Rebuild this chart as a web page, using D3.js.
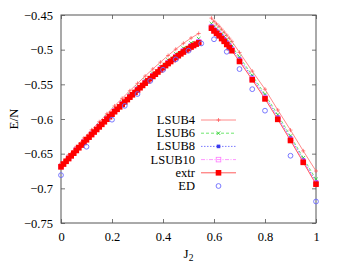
<!DOCTYPE html>
<html lang="en">
<head>
<meta charset="UTF-8">
<title>E/N vs J2</title>
<script src="https://d3js.org/d3.v7.min.js"></script>
<style type="text/css">
    body { margin: 0; background: #fff; }
    text { font-family: 'Liberation Serif', 'DejaVu Serif', serif; }
</style>
</head>
<body>
<svg width="337" height="263"></svg>
<script type="text/javascript">
// left branch (Neel-like), right branch (collinear)
var leftJ = [0, 0.03, 0.06, 0.09, 0.12, 0.15, 0.18, 0.21, 0.24, 0.27, 0.30, 0.33, 0.36, 0.39, 0.42, 0.45, 0.48, 0.51, 0.54];
var rightJ = [0.59, 0.60, 0.61, 0.62, 0.63, 0.64, 0.65, 0.66, 0.67, 0.70, 0.75, 0.80, 0.85, 0.90, 0.95, 1.00];

var lsub4L = [-0.6640, -0.6516, -0.6395, -0.6274, -0.6156, -0.6040, -0.5925, -0.5812, -0.5702, -0.5593, -0.5486, -0.5381, -0.5279, -0.5180, -0.5084, -0.4993, -0.4908, -0.4832, -0.4767];
var lsub6L = [-0.6675, -0.6554, -0.6434, -0.6316, -0.6200, -0.6087, -0.5973, -0.5863, -0.5755, -0.5648, -0.5543, -0.5441, -0.5341, -0.5244, -0.5150, -0.5062, -0.4979, -0.4905, -0.4842];
var lsub8L = [-0.6680, -0.6560, -0.6442, -0.6325, -0.6211, -0.6098, -0.5986, -0.5877, -0.5771, -0.5665, -0.5562, -0.5461, -0.5363, -0.5267, -0.5174, -0.5087, -0.5006, -0.4933, -0.4872];
var lsub10L = [-0.6685, -0.6565, -0.6448, -0.6331, -0.6218, -0.6106, -0.5995, -0.5886, -0.5781, -0.5675, -0.5572, -0.5472, -0.5374, -0.5279, -0.5187, -0.5101, -0.5020, -0.4948, -0.4887];

var lsub4R = [-0.4545, -0.4590, -0.4627, -0.4663, -0.4705, -0.4747, -0.4790, -0.4835, -0.4880, -0.5040, -0.5310, -0.5570, -0.5870, -0.6160, -0.6460, -0.6750];
var lsub6R = [-0.4625, -0.4665, -0.4700, -0.4735, -0.4775, -0.4815, -0.4860, -0.4905, -0.4950, -0.5105, -0.5370, -0.5645, -0.5940, -0.6245, -0.6560, -0.6870];
var lsub8R = [-0.4655, -0.4695, -0.4730, -0.4765, -0.4805, -0.4845, -0.4890, -0.4935, -0.4980, -0.5135, -0.5400, -0.5675, -0.5970, -0.6275, -0.6590, -0.6905];
var lsub10R = [-0.4675, -0.4715, -0.4750, -0.4785, -0.4825, -0.4865, -0.4910, -0.4955, -0.5000, -0.5155, -0.5420, -0.5695, -0.5990, -0.6295, -0.6610, -0.6925];

// extrapolated, left branch read at every 0.01
var extrLJ = [0, 0.01, 0.02, 0.03, 0.04, 0.05, 0.06, 0.07, 0.08, 0.09, 0.10, 0.11, 0.12, 0.13, 0.14, 0.15, 0.16, 0.17, 0.18, 0.19, 0.20, 0.21, 0.22, 0.23, 0.24, 0.25, 0.26, 0.27, 0.28, 0.29, 0.30, 0.31, 0.32, 0.33, 0.34, 0.35, 0.36, 0.37, 0.38, 0.39, 0.40, 0.41, 0.42, 0.43, 0.44, 0.45, 0.46, 0.47, 0.48, 0.49, 0.50, 0.51, 0.52, 0.53, 0.54];
var extrL = [-0.6690, -0.6650, -0.6610, -0.6571, -0.6532, -0.6493, -0.6454, -0.6415, -0.6376, -0.6338, -0.6300, -0.6262, -0.6225, -0.6188, -0.6151, -0.6114, -0.6077, -0.6040, -0.6003, -0.5967, -0.5931, -0.5895, -0.5860, -0.5825, -0.5790, -0.5755, -0.5720, -0.5685, -0.5651, -0.5617, -0.5583, -0.5549, -0.5516, -0.5483, -0.5450, -0.5418, -0.5386, -0.5354, -0.5322, -0.5291, -0.5260, -0.5230, -0.5200, -0.5171, -0.5142, -0.5114, -0.5087, -0.5060, -0.5034, -0.5009, -0.4985, -0.4962, -0.4940, -0.4920, -0.4902];
var extrR = [-0.4690, -0.4730, -0.4765, -0.4800, -0.4840, -0.4880, -0.4925, -0.4970, -0.5015, -0.5170, -0.5435, -0.5710, -0.6005, -0.6310, -0.6625, -0.6940];

var edJ = [0, 0.1, 0.2, 0.25, 0.3, 0.35, 0.4, 0.45, 0.5, 0.55, 0.6, 0.65, 0.7, 0.75, 0.8, 0.9, 1.0];
var edE = [-0.681, -0.640, -0.601, -0.581, -0.564, -0.545, -0.529, -0.514, -0.5015, -0.491, -0.485, -0.503, -0.528, -0.557, -0.588, -0.653, -0.719];

var xTicks = [0, 0.2, 0.4, 0.6, 0.8, 1];
var yTicks = [-0.75, -0.7, -0.65, -0.6, -0.55, -0.5, -0.45];

var svg = d3.select("svg");
var x = d3.scaleLinear().domain([0, 1]).range([61, 316]);
var y = d3.scaleLinear().domain([-0.75, -0.45]).range([223, 15]);

function zip(js, es) { return js.map(function(j, i) { return [j, es[i]]; }); }

var series = [
    {name: "LSUB4", color: "#ff8a8a", dash: null, mark: "plus", parts: [zip(leftJ, lsub4L), zip(rightJ, lsub4R)]},
    {name: "LSUB6", color: "#6ee66e", dash: "3,2", mark: "cross", parts: [zip(leftJ, lsub6L), zip(rightJ, lsub6R)]},
    {name: "LSUB8", color: "#7a7aff", dash: "1.5,1.5", mark: "fsquare", parts: [zip(leftJ, lsub8L), zip(rightJ, lsub8R)]},
    {name: "LSUB10", color: "#ff99ff", dash: "4,1.5,1,1.5", mark: "osquare", parts: [zip(leftJ, lsub10L), zip(rightJ, lsub10R)]},
    {name: "extr", color: "#ff5c5c", dash: null, mark: "redsq", parts: [zip(extrLJ, extrL), zip(rightJ, extrR)]},
    {name: "ED", color: "#6a6aff", dash: null, mark: "circle", parts: [zip(edJ, edE)], noLine: true}
];

var line = d3.line().x(function(d) { return x(d[0]); }).y(function(d) { return y(d[1]); });

function drawMark(g, type, px, py, color) {
    if (type === "plus") {
        g.append("path").attr("d", "M" + (px - 2) + "," + py + "h4M" + px + "," + (py - 2) + "v4")
            .attr("stroke", "#ff5050").attr("stroke-width", 0.7).attr("fill", "none");
    } else if (type === "cross") {
        g.append("path").attr("d", "M" + (px - 1.8) + "," + (py - 1.8) + "l3.6,3.6M" + (px - 1.8) + "," + (py + 1.8) + "l3.6,-3.6")
            .attr("stroke", "#22cc22").attr("stroke-width", 0.8).attr("fill", "none");
    } else if (type === "fsquare") {
        g.append("rect").attr("x", px - 1.8).attr("y", py - 1.8).attr("width", 3.6).attr("height", 3.6)
            .attr("fill", "#3a3aee");
    } else if (type === "osquare") {
        g.append("rect").attr("x", px - 2.3).attr("y", py - 2.3).attr("width", 4.6).attr("height", 4.6)
            .attr("fill", "none").attr("stroke", "#ff77ff").attr("stroke-width", 0.8);
    } else if (type === "redsq") {
        g.append("rect").attr("x", px - 2.8).attr("y", py - 2.8).attr("width", 5.6).attr("height", 5.6)
            .attr("fill", "#ff0000");
    } else if (type === "circle") {
        g.append("circle").attr("cx", px).attr("cy", py).attr("r", 2.4)
            .attr("fill", "none").attr("stroke", color).attr("stroke-width", 0.9);
    }
}

// axes with inward ticks on all sides
svg.append("g").attr("transform", "translate(0,223)")
    .call(d3.axisBottom(x).tickValues(xTicks).tickSize(-4).tickPadding(9)
        .tickFormat(function(d) { return String(d); }));
svg.append("g").attr("transform", "translate(0,15)")
    .call(d3.axisTop(x).tickValues(xTicks).tickSize(-4).tickFormat(""));
svg.append("g").attr("transform", "translate(61,0)")
    .call(d3.axisLeft(y).tickValues(yTicks).tickSize(-4).tickPadding(8)
        .tickFormat(function(d) { return String(d).replace("-", "\u2212"); }));
svg.append("g").attr("transform", "translate(316,0)")
    .call(d3.axisRight(y).tickValues(yTicks).tickSize(-4).tickFormat(""));

svg.selectAll(".domain").remove();
svg.selectAll(".tick line").attr("stroke", "#777");
svg.selectAll(".tick text").attr("fill", "#000").style("font-size", "12.5px")
    .style("font-family", "'Liberation Serif', serif");

svg.append("rect").attr("x", 61).attr("y", 15).attr("width", 255).attr("height", 208)
    .attr("fill", "none").attr("stroke", "#555").attr("stroke-width", 1);

// data
var plot = svg.append("g");
series.forEach(function(s) {
    var g = plot.append("g");
    s.parts.forEach(function(part) {
        if (!s.noLine) {
            g.append("path").datum(part).attr("d", line)
                .attr("fill", "none").attr("stroke", s.color).attr("stroke-width", 1)
                .attr("stroke-dasharray", s.dash);
        }
        part.forEach(function(d) { drawMark(g, s.mark, x(d[0]), y(d[1]), s.color); });
    });
});

// legend
var leg = svg.append("g");
series.forEach(function(s, i) {
    var ly = 120 + i * 13.2;
    leg.append("text").attr("x", 195).attr("y", ly + 4).attr("text-anchor", "end")
        .style("font-size", "12.5px").text(s.name);
    if (!s.noLine) {
        leg.append("line").attr("x1", 201).attr("x2", 236).attr("y1", ly).attr("y2", ly)
            .attr("stroke", s.color).attr("stroke-width", 1).attr("stroke-dasharray", s.dash);
    }
    drawMark(leg, s.mark, 218.5, ly, s.color);
});

// axis titles
var xl = svg.append("text").attr("x", 188.5).attr("y", 258).attr("text-anchor", "middle")
    .style("font-size", "13px");
xl.append("tspan").text("J");
xl.append("tspan").attr("dy", 3).style("font-size", "9.5px").text("2");

svg.append("text").attr("transform", "translate(18,119) rotate(-90)").attr("text-anchor", "middle")
    .style("font-size", "13px").text("E/N");
</script>
</body>
</html>
